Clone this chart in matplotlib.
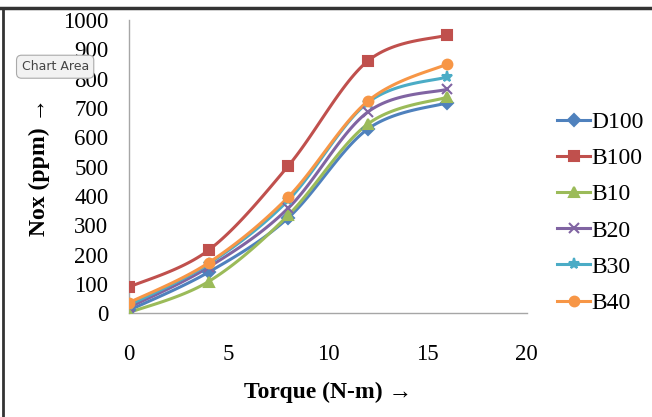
import numpy as np
import matplotlib.pyplot as plt
from matplotlib.lines import Line2D

plt.rcParams['font.family'] = ['Liberation Serif', 'DejaVu Serif']

torque = [0, 4, 8, 12, 16]
d100 = [10, 140, 325, 628, 718]
b100 = [89, 215, 502, 860, 949]
b10 = [2, 108, 334, 645, 737]
b20 = [20, 157, 358, 686, 764]
b30 = [28, 168, 385, 718, 806]
b40 = [36, 172, 396, 723, 850]

names = ['D100', 'B100', 'B10', 'B20', 'B30', 'B40']
colors = ['#4F81BD', '#C0504D', '#9BBB59', '#8064A2', '#4BACC6', '#F79646']
markers = ['D', 's', '^', 'x', '*', 'o']
msizes = [6, 7, 7, 7, 8, 7]


def smooth(x, y, n=30):
    # Bezier smoothing through every point, same as a spreadsheet "smoothed line"
    x = np.asarray(x, float)
    y = np.asarray(y, float)
    px = np.concatenate([[x[0]], x, [x[-1]]])
    py = np.concatenate([[y[0]], y, [y[-1]]])
    xs, ys = [], []
    t = np.linspace(0, 1, n)
    for i in range(len(x) - 1):
        p0 = np.array([px[i + 1], py[i + 1]])
        p3 = np.array([px[i + 2], py[i + 2]])
        c1 = p0 + (np.array([px[i + 2], py[i + 2]]) - np.array([px[i], py[i]])) / 6
        c2 = p3 - (np.array([px[i + 3], py[i + 3]]) - np.array([px[i + 1], py[i + 1]])) / 6
        b = ((1 - t) ** 3)[:, None] * p0 + (3 * (1 - t) ** 2 * t)[:, None] * c1 \
            + (3 * (1 - t) * t ** 2)[:, None] * c2 + (t ** 3)[:, None] * p3
        xs.extend(b[:, 0])
        ys.extend(b[:, 1])
    return xs, ys


fig = plt.figure(figsize=(6.52, 4.17), dpi=100)
ax = fig.add_axes([0.198, 0.249, 0.61, 0.703])

series = [d100, b100, b10, b20, b30, b40]
handles = []
for vals, name, c, m, ms in zip(series, names, colors, markers, msizes):
    sx, sy = smooth(torque, vals)
    ax.plot(sx, sy, color=c, lw=2.2, zorder=2)
    ax.plot(torque, vals, ls='none', marker=m, ms=ms, color=c, mew=1.5, zorder=3)
    handles.append(Line2D([], [], color=c, lw=2.2, marker=m, ms=ms, mew=1.5))

ax.set_xlim(0, 20)
ax.set_ylim(0, 1000)
ax.set_xticks(range(0, 21, 5))
ax.set_yticks(range(0, 1001, 100))
ax.tick_params(length=0, labelsize=16.5)
ax.tick_params(axis='y', pad=15)
ax.tick_params(axis='x', pad=22)
for s in ['top', 'right']:
    ax.spines[s].set_visible(False)
for s in ['left', 'bottom']:
    ax.spines[s].set_color('#A6A6A6')
    ax.spines[s].set_linewidth(1)

ax.set_xlabel('Torque (N-m) →', fontsize=17, fontweight='bold', labelpad=12)
ax.set_ylabel('Nox (ppm) →', fontsize=17, fontweight='bold', labelpad=9)

fig.legend(handles, names, loc='center left', bbox_to_anchor=(0.822, 0.49),
           frameon=False, fontsize=17, handlelength=1.4, handletextpad=0.05,
           labelspacing=0.62)

# outer frame lines
fig.add_artist(Line2D([0, 1], [0.981, 0.981], color='#333333', lw=2.5,
                      transform=fig.transFigure))
fig.add_artist(Line2D([0.005, 0.005], [0, 0.981], color='#333333', lw=2,
                      transform=fig.transFigure))

# tooltip box
fig.text(0.033, 0.84, 'Chart Area', fontsize=9, family='DejaVu Sans',
         color='#444444', va='center',
         bbox=dict(boxstyle='round,pad=0.4', fc='#F2F2F2', ec='#AAAAAA', lw=0.8))

fig.savefig('out.png', dpi=100)
